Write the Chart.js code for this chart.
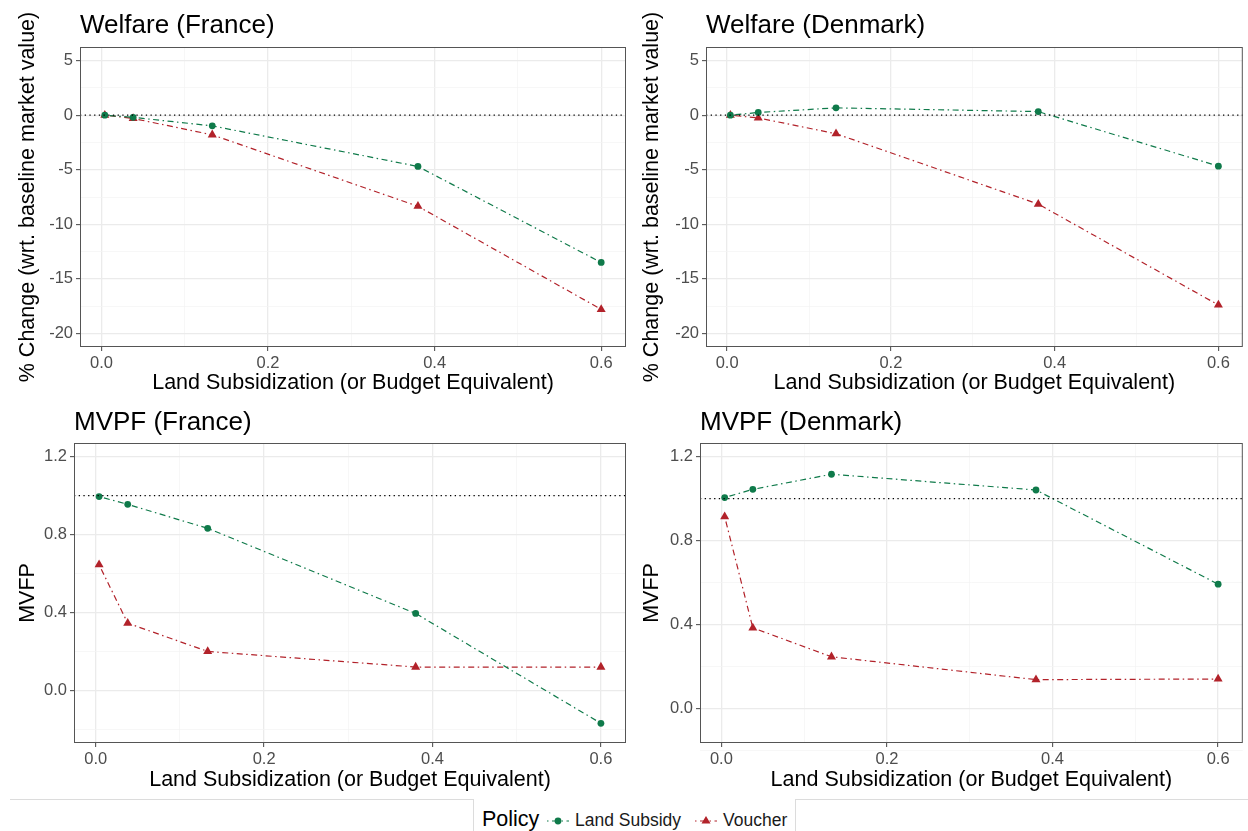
<!DOCTYPE html>
<html>
<head>
<meta charset="utf-8">
<script src="https://cdn.jsdelivr.net/npm/chart.js@4"></script>
<style>
  body { margin: 0; background: #fff; font-family: "Liberation Sans", Arial, sans-serif; }
  #wrap { position: relative; width: 1248px; height: 831px; overflow: hidden; }
  .panel { position: absolute; }
  #rule { position: absolute; left: 10px; top: 799px; width: 1238px; border-top: 1px solid #dcdcdc; }
  #legend { position: absolute; left: 473px; top: 799px; width: 321px; height: 40px; background: #fff;
            border-left: 1px solid #dcdcdc; border-right: 1px solid #dcdcdc; }
  #legend .ttl { position: absolute; left: 8px; top: 8px; font-size: 21.5px; color: #000; }
  #legend .item { position: absolute; top: 11px; font-size: 17.5px; color: #1a1a1a; }
  #legend canvas { position: absolute; top: 14px; }
</style>
</head>
<body>
<div id="wrap">
  <canvas class="panel" id="c1" style="left:0px;top:0px" width="640" height="400"></canvas>
  <canvas class="panel" id="c2" style="left:624px;top:0px" width="624" height="400"></canvas>
  <canvas class="panel" id="c3" style="left:0px;top:400px" width="640" height="400"></canvas>
  <canvas class="panel" id="c4" style="left:624px;top:400px" width="624" height="400"></canvas>
  <div id="rule"></div>
  <div id="legend">
    <span class="ttl">Policy</span>
    <canvas id="g1" width="24" height="16" style="left:72px"></canvas>
    <span class="item" style="left:101px">Land Subsidy</span>
    <canvas id="g2" width="24" height="16" style="left:220px"></canvas>
    <span class="item" style="left:249px">Voucher</span>
  </div>
</div>
<script>
// land subsidization levels (x)
const subsid = [0.004, 0.038, 0.133, 0.38, 0.6];

// welfare, % change wrt baseline market value
const welfareFR_land = [0, -0.2, -0.98, -4.7, -13.5];
const welfareFR_voucher = [0, -0.3, -1.8, -8.35, -17.8];
const welfareDK_land = [0, 0.25, 0.67, 0.33, -4.67];
const welfareDK_voucher = [0, -0.25, -1.7, -8.15, -17.4];

// MVPF
const mvpfFR_land = [0.995, 0.955, 0.832, 0.395, -0.169];
const mvpfFR_voucher = [0.645, 0.345, 0.2, 0.12, 0.12];
const mvpfDK_land = [1.005, 1.044, 1.116, 1.041, 0.592];
const mvpfDK_voucher = [0.914, 0.384, 0.246, 0.137, 0.14];

// tick labels / grid
const xMajor = [0, 0.2, 0.4, 0.6];
const xMinor = [0.1, 0.3, 0.5];
const welfareMajor = [-20, -15, -10, -5, 0, 5];
const welfareMinor = [-17.5, -12.5, -7.5, -2.5, 2.5];
const mvpfMajor = [0, 0.4, 0.8, 1.2];
const mvpfMinor = [-0.2, 0.2, 0.6, 1.0];

const GREEN = '#0f7a4a';
const RED = '#b2222a';
const FONT = '"Liberation Sans", Arial, sans-serif';

// titles, border and dotted reference line
const panelDeco = {
    id: 'panelDeco',
    afterDraw(chart, args, opts) {
        const ctx = chart.ctx;
        const a = chart.chartArea;
        const y = chart.scales.y.getPixelForValue(opts.ref);
        ctx.save();
        ctx.strokeStyle = '#000';
        ctx.lineWidth = 1.3;
        ctx.setLineDash([1.3, 3.4]);
        ctx.beginPath();
        ctx.moveTo(a.left, y);
        ctx.lineTo(a.right, y);
        ctx.stroke();
        ctx.setLineDash([]);
        ctx.strokeStyle = '#555';
        ctx.lineWidth = 1;
        ctx.strokeRect(a.left + 0.5, a.top + 0.5, a.right - a.left - 1, a.bottom - a.top - 1);
        ctx.fillStyle = '#000';
        ctx.font = '26px ' + FONT;
        ctx.textBaseline = 'alphabetic';
        ctx.fillText(opts.title, a.left, a.top - opts.titleGap);
        ctx.restore();
    }
};

function makeAxis(major, minor, min, max, decimals, size) {
    const isMajor = v => major.some(m => Math.abs(m - v) < 1e-9);
    return {
        type: 'linear',
        min: min,
        max: max,
        afterBuildTicks: s => {
            s.ticks = major.concat(minor).sort((a, b) => a - b).map(v => ({ value: v }));
        },
        afterFit: s => {
            if (s.isHorizontal()) s.height = size; else s.width = size;
        },
        grid: {
            color: c => isMajor(c.tick.value) ? '#ebebeb' : '#f3f3f3',
            lineWidth: c => isMajor(c.tick.value) ? 1.3 : 0.7,
            tickColor: c => isMajor(c.tick.value) ? '#444' : 'rgba(0,0,0,0)',
            tickLength: 4,
            tickWidth: 1
        },
        border: { display: false },
        ticks: {
            autoSkip: false,
            maxRotation: 0,
            padding: 3,
            color: '#4d4d4d',
            font: { family: FONT, size: 16.5 },
            callback: v => isMajor(v) ? (decimals ? v.toFixed(decimals) : String(v)) : ''
        }
    };
}

function series(ys) {
    return ys.map((y, i) => ({ x: subsid[i], y: y }));
}

function makeChart(id, cfg) {
    const xs = makeAxis(xMajor, xMinor, -0.0258, 0.6298, 1, cfg.xh);
    xs.title = { display: true, text: 'Land Subsidization (or Budget Equivalent)', color: '#000',
                 font: { family: FONT, size: 21.5 }, padding: { top: 0, bottom: cfg.xtp } };
    const ys = makeAxis(cfg.yMajor, cfg.yMinor, cfg.yMin, cfg.yMax, cfg.dec, cfg.yw);
    ys.title = { display: true, text: cfg.ylab, color: '#000',
                 font: { family: FONT, size: 21.5 }, padding: { top: 15, bottom: 0 } };
    return new Chart(document.getElementById(id), {
        type: 'scatter',
        data: {
            datasets: [
                { label: 'Land Subsidy', data: series(cfg.land), showLine: true,
                  borderColor: GREEN, backgroundColor: GREEN, borderWidth: 1.2,
                  borderDash: [1.5, 3.5, 6, 3.5], pointStyle: 'circle', pointRadius: 3.4,
                  pointBorderWidth: 0 },
                { label: 'Voucher', data: series(cfg.voucher), showLine: true,
                  borderColor: RED, backgroundColor: RED, borderWidth: 1.2,
                  borderDash: [1.5, 3.5, 6, 3.5], pointStyle: 'triangle', pointRadius: 5.2,
                  pointBorderWidth: 0 }
            ]
        },
        options: {
            responsive: false,
            animation: false,
            events: [],
            layout: { padding: { left: 0, top: cfg.top, right: cfg.right, bottom: 0 } },
            scales: { x: xs, y: ys },
            plugins: {
                legend: { display: false },
                tooltip: { enabled: false },
                panelDeco: { ref: cfg.ref, title: cfg.title, titleGap: cfg.titleGap }
            }
        },
        plugins: [panelDeco]
    });
}

const welfareLab = '% Change (wrt. baseline market value)';

makeChart('c1', { title: 'Welfare (France)', ylab: welfareLab, land: welfareFR_land, voucher: welfareFR_voucher,
    yMajor: welfareMajor, yMinor: welfareMinor, yMin: -21.25, yMax: 6.25, dec: 0, ref: 0,
    yw: 80, xh: 53, top: 47, right: 14, xtp: 4, titleGap: 14 });
makeChart('c2', { title: 'Welfare (Denmark)', ylab: welfareLab, land: welfareDK_land, voucher: welfareDK_voucher,
    yMajor: welfareMajor, yMinor: welfareMinor, yMin: -21.25, yMax: 6.25, dec: 0, ref: 0,
    yw: 82, xh: 53, top: 47, right: 2, xtp: 4, titleGap: 14 });
makeChart('c3', { title: 'MVPF (France)', ylab: 'MVFP', land: mvpfFR_land, voucher: mvpfFR_voucher,
    yMajor: mvpfMajor, yMinor: mvpfMinor, yMin: -0.27, yMax: 1.27, dec: 1, ref: 1,
    yw: 74, xh: 57, top: 43, right: 14, xtp: 7, titleGap: 13 });
makeChart('c4', { title: 'MVPF (Denmark)', ylab: 'MVFP', land: mvpfDK_land, voucher: mvpfDK_voucher,
    yMajor: mvpfMajor, yMinor: mvpfMinor, yMin: -0.165, yMax: 1.265, dec: 1, ref: 1,
    yw: 76, xh: 57, top: 43, right: 2, xtp: 7, titleGap: 13 });

// legend keys
function key(id, color, shape) {
    const ctx = document.getElementById(id).getContext('2d');
    ctx.strokeStyle = color;
    ctx.fillStyle = color;
    ctx.lineWidth = 1.2;
    ctx.setLineDash([1.5, 3.5, 6, 3.5]);
    ctx.beginPath(); ctx.moveTo(1, 8); ctx.lineTo(23, 8); ctx.stroke();
    ctx.beginPath();
    if (shape === 'circle') {
        ctx.arc(12, 8, 3.4, 0, Math.PI * 2);
    } else {
        ctx.moveTo(12, 3); ctx.lineTo(16.5, 10.6); ctx.lineTo(7.5, 10.6); ctx.closePath();
    }
    ctx.fill();
}
key('g1', GREEN, 'circle');
key('g2', RED, 'triangle');
</script>
</body>
</html>
